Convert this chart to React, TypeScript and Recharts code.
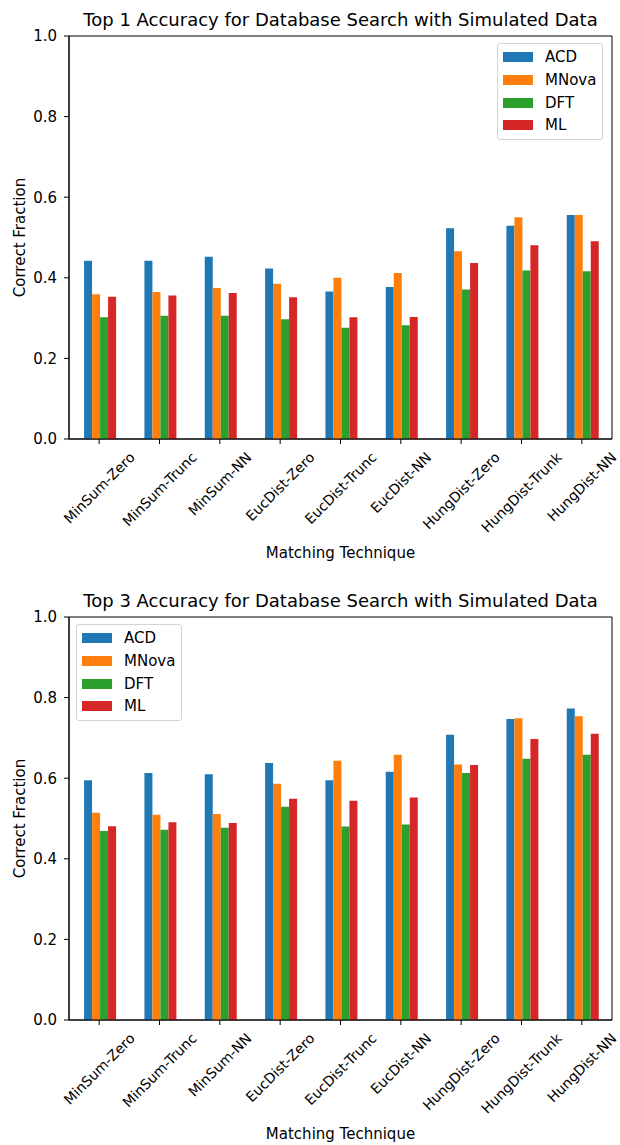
import React from 'react';
import { BarChart, Bar, XAxis, YAxis, Legend, ReferenceArea } from 'recharts';

const categories = [
  'MinSum-Zero', 'MinSum-Trunc', 'MinSum-NN', 'EucDist-Zero', 'EucDist-Trunc',
  'EucDist-NN', 'HungDist-Zero', 'HungDist-Trunk', 'HungDist-NN',
];

// Top 1 accuracy
const top1ACD = [0.442, 0.442, 0.452, 0.423, 0.366, 0.377, 0.523, 0.529, 0.556];
const top1MNova = [0.359, 0.365, 0.375, 0.385, 0.4, 0.412, 0.466, 0.55, 0.556];
const top1DFT = [0.302, 0.306, 0.306, 0.297, 0.276, 0.282, 0.371, 0.418, 0.416];
const top1ML = [0.353, 0.356, 0.362, 0.352, 0.302, 0.303, 0.437, 0.481, 0.491];

// Top 3 accuracy
const top3ACD = [0.595, 0.613, 0.61, 0.638, 0.595, 0.616, 0.708, 0.747, 0.773];
const top3MNova = [0.514, 0.509, 0.511, 0.586, 0.643, 0.658, 0.634, 0.749, 0.754];
const top3DFT = [0.469, 0.472, 0.477, 0.529, 0.48, 0.485, 0.613, 0.648, 0.658];
const top3ML = [0.481, 0.491, 0.489, 0.549, 0.544, 0.552, 0.633, 0.697, 0.71];

const seriesNames = ['ACD', 'MNova', 'DFT', 'ML'];
const seriesColors = ['#1f77b4', '#ff7f0e', '#2ca02c', '#d62728'];
const yTicks = [0, 0.2, 0.4, 0.6, 0.8, 1.0];

const FONT = '"DejaVu Sans", Verdana, sans-serif';
const FS = 15;
const XFS = 14;

const buildRows = (cols: number[][]) =>
  categories.map((name, i) => {
    const row: Record<string, string | number> = { name };
    seriesNames.forEach((s, k) => { row[s] = cols[k][i]; });
    return row;
  });

const top1Data = buildRows([top1ACD, top1MNova, top1DFT, top1ML]);
const top3Data = buildRows([top3ACD, top3MNova, top3DFT, top3ML]);

let measureCtx: CanvasRenderingContext2D | null = null;
const textWidth = (s: string) => {
  if (!measureCtx) measureCtx = document.createElement('canvas').getContext('2d');
  if (!measureCtx) return s.length * 8;
  measureCtx.font = `${XFS}px ${FONT}`;
  return measureCtx.measureText(s).width;
};

// matplotlib-style rotated tick: rotated box centred on the tick, top just under it
const RotatedTick = (props: any) => {
  const { x, y, payload } = props;
  const label = String(payload.value);
  const h = XFS * 1.16;
  const boxH = (textWidth(label) + h) * Math.SQRT1_2;
  const cy = y + boxH / 2;
  return (
    <text
      x={x}
      y={cy}
      textAnchor="middle"
      dominantBaseline="central"
      transform={`rotate(-45 ${x} ${cy})`}
      fontSize={XFS}
      fontFamily={FONT}
      fill="#000"
    >
      {label}
    </text>
  );
};

const LegendBox = () => (
  <div
    style={{
      border: '1px solid #d4d4d4',
      borderRadius: 3,
      background: 'rgba(255,255,255,0.8)',
      padding: '2px 6px 2px 5px',
      fontFamily: FONT,
      fontSize: FS,
      color: '#000',
    }}
  >
    {seriesNames.map((s, i) => (
      <div key={s} style={{ display: 'flex', alignItems: 'center', height: 22.7 }}>
        <span style={{ width: 30, height: 10, background: seriesColors[i], marginRight: 12 }} />
        <span>{s}</span>
      </div>
    ))}
  </div>
);

interface AccuracyChartProps {
  title: string;
  data: Record<string, string | number>[];
  top: number;
  legendLeft: number;
}

const AccuracyChart: React.FC<AccuracyChartProps> = ({ title, data, top, legendLeft }) => (
  <div style={{ position: 'absolute', left: 0, top, width: 620, height: 564 }}>
    <div
      style={{
        position: 'absolute', left: 69, top: 9, width: 543, lineHeight: '22px',
        textAlign: 'center', fontFamily: FONT, fontSize: 18, color: '#000', whiteSpace: 'nowrap',
      }}
    >
      {title}
    </div>
    <BarChart
      width={620}
      height={564}
      data={data}
      margin={{ top: 36, right: 8, bottom: 10, left: 9 }}
      barCategoryGap="25%"
      barGap={0}
    >
      <XAxis
        dataKey="name"
        interval={0}
        height={115}
        tick={RotatedTick}
        tickSize={5}
        tickMargin={5}
        axisLine={{ stroke: '#000' }}
        tickLine={{ stroke: '#000' }}
        label={{
          content: (p: any) => (
            <text
              x={p.viewBox.x + p.viewBox.width / 2}
              y={p.viewBox.y + 114}
              textAnchor="middle"
              dominantBaseline="central"
              fontSize={FS}
              fontFamily={FONT}
              fill="#000"
            >
              Matching Technique
            </text>
          ),
        }}
      />
      <YAxis
        domain={[0, 1]}
        ticks={yTicks}
        width={60}
        tickFormatter={(v: number) => v.toFixed(1)}
        tick={{ fill: '#000', fontSize: FS, fontFamily: FONT }}
        tickSize={5}
        tickMargin={7}
        axisLine={{ stroke: '#000' }}
        tickLine={{ stroke: '#000' }}
        label={{
          content: (p: any) => {
            const cx = p.viewBox.x + 10.5;
            const cy = p.viewBox.y + p.viewBox.height / 2;
            return (
              <text
                x={cx}
                y={cy}
                textAnchor="middle"
                dominantBaseline="central"
                transform={`rotate(-90 ${cx} ${cy})`}
                fontSize={FS}
                fontFamily={FONT}
                fill="#000"
              >
                Correct Fraction
              </text>
            );
          },
        }}
      />
      <Legend
        layout="vertical"
        align="center"
        verticalAlign="middle"
        content={LegendBox}
        wrapperStyle={{ left: legendLeft, top: 43, width: 'auto' }}
      />
      {seriesNames.map((s, i) => (
        <Bar key={s} dataKey={s} fill={seriesColors[i]} isAnimationActive={false} />
      ))}
      {/* axes frame (matplotlib spines) */}
      <ReferenceArea y1={0} y2={1} fill="none" fillOpacity={0} stroke="#000" strokeOpacity={1} strokeWidth={1} ifOverflow="visible" />
    </BarChart>
  </div>
);

export default function App() {
  return (
    <div style={{ position: 'absolute', left: 0, top: 0, width: 620, height: 1145, background: '#fff', overflow: 'hidden' }}>
      <AccuracyChart
        title="Top 1 Accuracy for Database Search with Simulated Data"
        data={top1Data}
        top={0}
        legendLeft={497}
      />
      <AccuracyChart
        title="Top 3 Accuracy for Database Search with Simulated Data"
        data={top3Data}
        top={581}
        legendLeft={76}
      />
    </div>
  );
}
